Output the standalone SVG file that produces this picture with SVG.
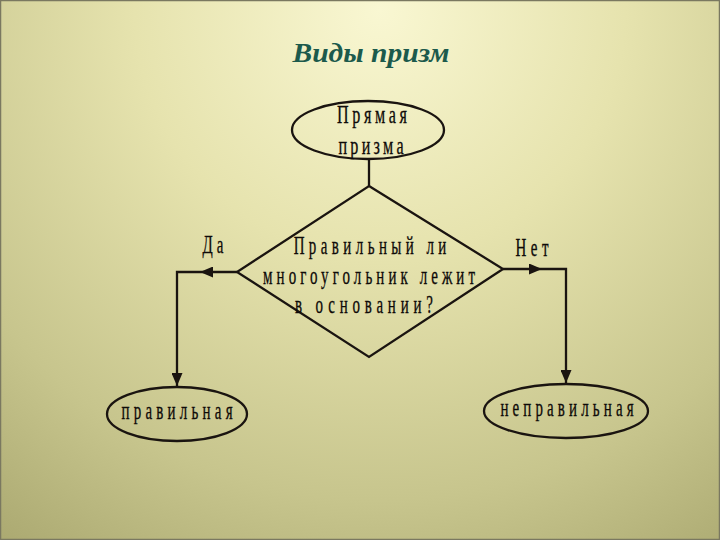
<svg xmlns="http://www.w3.org/2000/svg" width="720" height="540" viewBox="0 0 720 540">
  <defs>
    <radialGradient id="bg" gradientUnits="userSpaceOnUse" cx="380" cy="10" r="700">
      <stop offset="0" stop-color="#f9f7d2"/>
      <stop offset="0.35" stop-color="#e6e3ae"/>
      <stop offset="0.7" stop-color="#c7c58d"/>
      <stop offset="1" stop-color="#a3a169"/>
    </radialGradient>
    <marker id="arr" viewBox="0 0 13 11" refX="13" refY="5.5" markerWidth="13" markerHeight="11" orient="auto" markerUnits="userSpaceOnUse">
      <path d="M0,0 L13,5.5 L0,11 z" fill="#1a1410"/>
    </marker>
    <style>
      .shape { fill: none; stroke: #1a1410; stroke-width: 2.3; }
      .line { fill: none; stroke: #1a1410; stroke-width: 2.3; }
      .t { font-family: "Liberation Serif", "Times New Roman", serif; font-size: 23px; fill: #0e0a08; stroke: #0e0a08; stroke-width: 0.3; text-anchor: middle; }
      .title { font-family: "Liberation Serif", "Times New Roman", serif; font-size: 27px; font-weight: bold; font-style: italic; fill: #1c5a4c; text-anchor: middle; }
    </style>
  </defs>
  <rect x="0" y="0" width="720" height="540" fill="url(#bg)"/>
  <rect x="0.5" y="0.5" width="719" height="539" fill="none" stroke="#7a7860" stroke-width="1.5"/>

  <text id="title" class="title" x="371" y="62" textLength="157" lengthAdjust="spacingAndGlyphs">Виды призм</text>

  <g id="connectors">
    <path class="line" d="M369 159 L369 186"/>
    <path class="line" d="M237 272 L200 272" marker-end="url(#arr)"/>
    <path class="line" d="M200 272 L177 272 L177 386" marker-end="url(#arr)"/>
    <path class="line" d="M503 269 L542 269" marker-end="url(#arr)"/>
    <path class="line" d="M542 269 L566 269 L566 383" marker-end="url(#arr)"/>
  </g>

  <g id="label-yes">
    <text class="t" transform="translate(213 253) scale(0.65 1.12)" textLength="32" lengthAdjust="spacing">Да</text>
  </g>
  <g id="label-no">
    <text class="t" transform="translate(532 256) scale(0.65 1.12)" textLength="51" lengthAdjust="spacing">Нет</text>
  </g>

  <g id="node-start">
    <ellipse class="shape" cx="368" cy="130" rx="76" ry="29"/>
    <text class="t" font-size="20" transform="translate(372 123) scale(0.7 1.1)" textLength="100" lengthAdjust="spacing">Прямая</text>
    <text class="t" font-size="20" transform="translate(371 154) scale(0.7 1.1)" textLength="93" lengthAdjust="spacing">призма</text>
  </g>

  <g id="node-decision">
    <polygon class="shape" points="369,186 503,269 369,357 237,272"/>
    <text class="t" transform="translate(370 254) scale(0.65 1.12)" textLength="235" lengthAdjust="spacing">Правильный ли</text>
    <text class="t" transform="translate(369 284) scale(0.65 1.12)" textLength="326" lengthAdjust="spacing">многоугольник лежит</text>
    <text class="t" transform="translate(364 313) scale(0.65 1.12)" textLength="212" lengthAdjust="spacing">в основании?</text>
  </g>

  <g id="node-regular">
    <ellipse class="shape" cx="177" cy="414" rx="70" ry="27"/>
    <text class="t" transform="translate(177 419) scale(0.65 1.12)" textLength="171" lengthAdjust="spacing">правильная</text>
  </g>

  <g id="node-irregular">
    <ellipse class="shape" cx="566" cy="411" rx="82" ry="27"/>
    <text class="t" transform="translate(567 416) scale(0.65 1.12)" textLength="205" lengthAdjust="spacing">неправильная</text>
  </g>
</svg>
